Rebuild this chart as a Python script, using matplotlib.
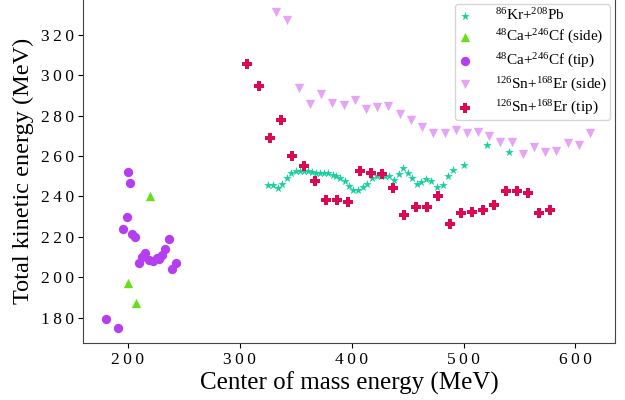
import matplotlib
matplotlib.use("Agg")
import matplotlib.pyplot as plt
from matplotlib.ticker import FixedLocator, FuncFormatter

# 86Kr+208Pb
kr_x = [325.6, 329.6, 334.1, 337.9, 342.1, 345.9, 350.1, 354.0, 357.5, 360.9,
        364.4, 368.3, 371.9, 375.7, 379.3, 383.2, 386.1, 389.7, 394.2, 398.0,
        401.6, 405.5, 410.0, 413.8, 418.0, 422.5, 426.4, 429.9, 433.8, 438.2,
        442.2, 446.3, 450.2, 454.1, 458.3, 462.4, 466.6, 471.3, 476.1, 481.3,
        486.0, 491.0, 500.8, 521.4, 541.0]
kr_y = [245.7, 245.7, 244.2, 246.2, 249.2, 251.5, 252.5, 252.8, 252.8, 252.5,
        252.1, 251.8, 251.5, 251.5, 251.5, 250.7, 250.2, 249.0, 247.5, 245.2,
        243.2, 243.1, 244.7, 246.4, 248.9, 249.9, 249.9, 249.9, 249.9, 248.0,
        251.0, 254.0, 251.4, 249.0, 246.0, 247.0, 248.5, 247.8, 244.5, 245.7,
        250.2, 253.1, 255.8, 265.6, 261.9]

# 48Ca+246Cf (side)
ca_side_x = [220.2, 200.5, 207.7]
ca_side_y = [240.1, 197.2, 187.1]

# 48Ca+246Cf (tip)
ca_tip_x = [180.6, 191.1, 195.5, 199.6, 200.5, 201.8, 203.8, 206.8, 209.8, 212.8,
            215.7, 218.8, 222.3, 225.9, 227.7, 230.9, 233.1, 236.6, 239.6, 242.9]
ca_tip_y = [179.4, 174.9, 223.8, 229.7, 252.1, 246.9, 221.2, 219.9, 207.2, 210.3,
            212.1, 208.8, 208.3, 209.6, 209.1, 211.3, 214.1, 219.1, 204.2, 207.2]

# 126Sn+168Er (side)
sn_side_x = [332.8, 342.6, 352.8, 362.9, 373.0, 382.8, 393.0, 402.9, 413.0, 423.1,
             432.9, 443.1, 453.2, 463.0, 473.1, 483.2, 493.1, 502.9, 513.0, 523.1,
             533.0, 543.2, 553.3, 563.1, 573.2, 583.0, 593.2, 603.3, 613.1]
sn_side_y = [331.3, 327.5, 293.5, 285.9, 290.9, 286.4, 285.3, 287.7, 283.1, 284.1,
             284.6, 280.6, 277.6, 274.3, 271.3, 271.4, 273.0, 271.4, 272.1, 269.7,
             266.9, 266.7, 260.9, 264.4, 261.8, 262.6, 266.2, 265.4, 271.4]

# 126Sn+168Er (tip)
sn_tip_x = [306.9, 317.0, 326.9, 337.0, 347.1, 357.3, 367.1, 377.2, 387.0, 397.1,
            407.3, 417.2, 427.3, 437.1, 447.2, 457.4, 467.2, 477.4, 487.7, 497.6,
            507.7, 517.5, 527.6, 537.8, 547.6, 557.5, 567.6, 577.4]
sn_tip_y = [305.6, 294.8, 268.7, 277.7, 259.9, 255.0, 247.5, 238.1, 238.4, 237.3,
            252.5, 251.6, 251.3, 244.4, 230.6, 235.0, 235.0, 240.2, 226.5, 231.6,
            232.3, 233.3, 235.6, 242.7, 242.9, 241.6, 232.0, 233.3]

x_ticks = [200, 300, 400, 500, 600]
y_ticks = [180, 200, 220, 240, 260, 280, 300, 320]

plt.rcParams['font.family'] = 'Liberation Serif'
plt.rcParams['mathtext.fontset'] = 'custom'
plt.rcParams['mathtext.rm'] = 'Liberation Serif'
plt.rcParams['mathtext.it'] = 'Liberation Serif:italic'

fig = plt.figure(figsize=(6.25, 4.0), dpi=100)
ax = fig.add_axes([0.1323, 0.1418, 0.852, 0.862])

ax.scatter(kr_x, kr_y, marker='*', s=42, color='#17cf9f', linewidths=0,
           label=r'$^{86}$Kr+$^{208}$Pb')
ax.scatter(ca_side_x, ca_side_y, marker='^', s=45, color='#66e019', linewidths=0,
           label=r'$^{48}$Ca+$^{246}$Cf (side)')
ax.scatter(ca_tip_x, ca_tip_y, marker='o', s=45, color='#b43ff0', linewidths=0,
           label=r'$^{48}$Ca+$^{246}$Cf (tip)')
ax.scatter(sn_side_x, sn_side_y, marker='v', s=45, color='#e6a3f7', linewidths=0,
           label=r'$^{126}$Sn+$^{168}$Er (side)')
ax.scatter(sn_tip_x, sn_tip_y, marker='P', s=50, color='#dc0a55', linewidths=0,
           label=r'$^{126}$Sn+$^{168}$Er (tip)')

ax.set_xlim(159.8, 635.5)
ax.set_ylim(167.4, 337.9)

# spaced digits like the original tick labels
spaced = FuncFormatter(lambda v, pos: '\u2009'.join(str(int(round(v)))))
ax.xaxis.set_major_locator(FixedLocator(x_ticks))
ax.yaxis.set_major_locator(FixedLocator(y_ticks))
ax.xaxis.set_major_formatter(spaced)
ax.yaxis.set_major_formatter(spaced)
ax.tick_params(labelsize=12.5, length=3.5, width=0.8, pad=2.5)
for sp in ax.spines.values():
    sp.set_color('#444444')

ax.set_xlabel('Center of mass energy (MeV)', fontsize=18, labelpad=3)
ax.set_ylabel('Total kinetic energy (MeV)', fontsize=17.5, labelpad=5)

ax.legend(loc='upper right', fontsize=11, handlelength=0.9, handletextpad=1.5,
          borderpad=0.2, borderaxespad=0.35, labelspacing=0.35)

fig.savefig('out.png', dpi=100)
